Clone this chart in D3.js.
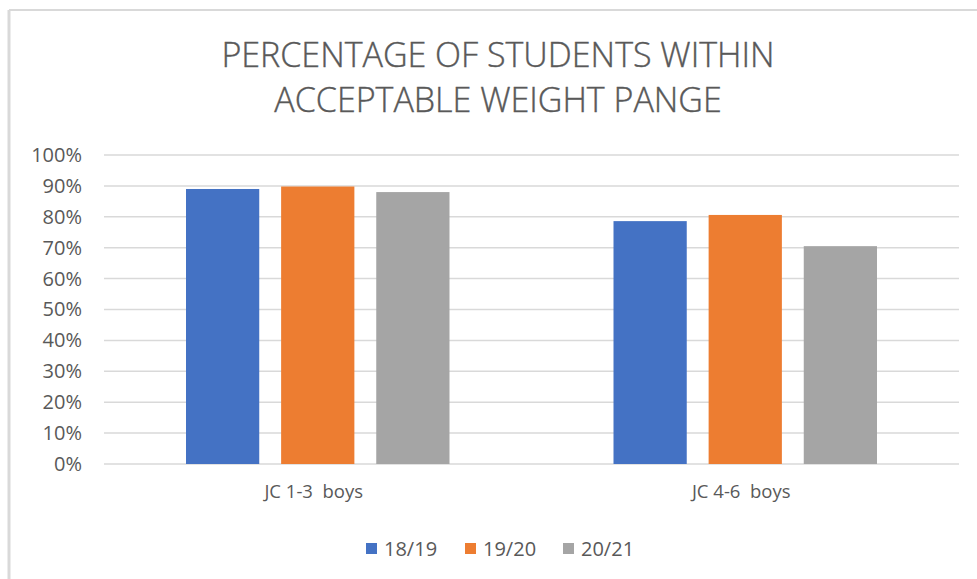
<!DOCTYPE html>
<html>
<head>
<meta charset="utf-8">
<script src="https://cdn.jsdelivr.net/npm/d3@7"></script>
<style>
  body { margin: 0; background: #fff; }
  text { font-family: "Open Sans", sans-serif; fill: #595959; }
</style>
</head>
<body>
<div id="chart"></div>
<script>
'use strict';

// Data
const categories = ["JC 1-3  boys", "JC 4-6  boys"];
const seriesNames = ["18/19", "19/20", "20/21"];
const values1819 = [0.89, 0.786];
const values1920 = [0.898, 0.806];
const values2021 = [0.88, 0.705];
const yTicks = [0, 0.1, 0.2, 0.3, 0.4, 0.5, 0.6, 0.7, 0.8, 0.9, 1.0];
const titleLines = ["PERCENTAGE OF STUDENTS WITHIN", "ACCEPTABLE WEIGHT PANGE"];

const colors = ["#4472C4", "#ED7D31", "#A5A5A5"];

const W = 977, H = 579;
const margin = { top: 155, right: 18, bottom: 115, left: 104 };
const width = W - margin.left - margin.right;
const height = H - margin.top - margin.bottom;

const svg = d3.select("#chart")
    .append("svg")
    .attr("width", W)
    .attr("height", H);

// chart frame (top + left edges visible in the reference)
svg.append("line").attr("x1", 9).attr("x2", W).attr("y1", 10).attr("y2", 10)
    .attr("stroke", "#d9d9d9").attr("stroke-width", 2);
svg.append("line").attr("x1", 9).attr("x2", 9).attr("y1", 10).attr("y2", H)
    .attr("stroke", "#d9d9d9").attr("stroke-width", 3);

// title
svg.append("g").selectAll("text")
    .data(titleLines)
    .enter()
    .append("text")
    .attr("x", 498)
    .attr("y", (d, i) => 67 + i * 45)
    .attr("text-anchor", "middle")
    .style("font-size", "34px")
    .style("font-weight", 300)
    .style("stroke", "#595959")
    .style("stroke-width", 0.4)
    .text(d => d);

const g = svg.append("g")
    .attr("transform", `translate(${margin.left},${margin.top})`);

const x0 = d3.scaleBand()
    .domain(categories)
    .range([0, width])
    .padding(0);

const x1 = d3.scaleBand()
    .domain(seriesNames)
    .range([82, x0.bandwidth() - 82])
    .paddingInner(0.23)
    .paddingOuter(0);

const y = d3.scaleLinear()
    .domain([0, 1])
    .range([height, 0]);

// gridlines
g.append("g")
    .selectAll("line")
    .data(yTicks)
    .enter()
    .append("line")
    .attr("x1", 0)
    .attr("x2", width)
    .attr("y1", d => y(d))
    .attr("y2", d => y(d))
    .attr("stroke", "#d9d9d9")
    .attr("stroke-width", 1.5);

// y axis labels
const yAxis = g.append("g")
    .attr("class", "y-axis")
    .call(d3.axisLeft(y).tickValues(yTicks).tickFormat(d3.format(".0%")).tickSize(0).tickPadding(22));
yAxis.select(".domain").remove();
yAxis.selectAll("text")
    .style("font-size", "20px")
    .style("fill", "#595959");

// bars
const seriesValues = [values1819, values1920, values2021];
const barData = categories.flatMap((c, ci) => seriesNames.map((s, si) => ({
    cat: c, series: s, value: seriesValues[si][ci], idx: si
})));

g.selectAll(".bar")
    .data(barData)
    .enter()
    .append("rect")
    .attr("class", "bar")
    .attr("x", d => x0(d.cat) + x1(d.series))
    .attr("y", d => y(d.value))
    .attr("width", x1.bandwidth())
    .attr("height", d => height - y(d.value))
    .attr("fill", d => colors[d.idx]);

// x axis labels
const xAxis = g.append("g")
    .attr("transform", `translate(0,${height})`)
    .call(d3.axisBottom(x0).tickSize(0).tickPadding(21));
xAxis.select(".domain").remove();
xAxis.selectAll("text")
    .style("font-size", "18.5px")
    .style("fill", "#595959")
    .style("white-space", "pre")
    .attr("dx", -4)
    .attr("xml:space", "preserve");

// legend
const legendX = [366, 465, 563];
const legend = svg.append("g").attr("class", "legend")
    .selectAll("g")
    .data(seriesNames)
    .enter()
    .append("g")
    .attr("transform", (d, i) => `translate(${legendX[i]},543)`);

legend.append("rect")
    .attr("width", 11)
    .attr("height", 11)
    .attr("fill", (d, i) => colors[i]);

legend.append("text")
    .attr("x", 18)
    .attr("y", 13)
    .style("font-size", "20px")
    .text(d => d);
</script>
</body>
</html>
